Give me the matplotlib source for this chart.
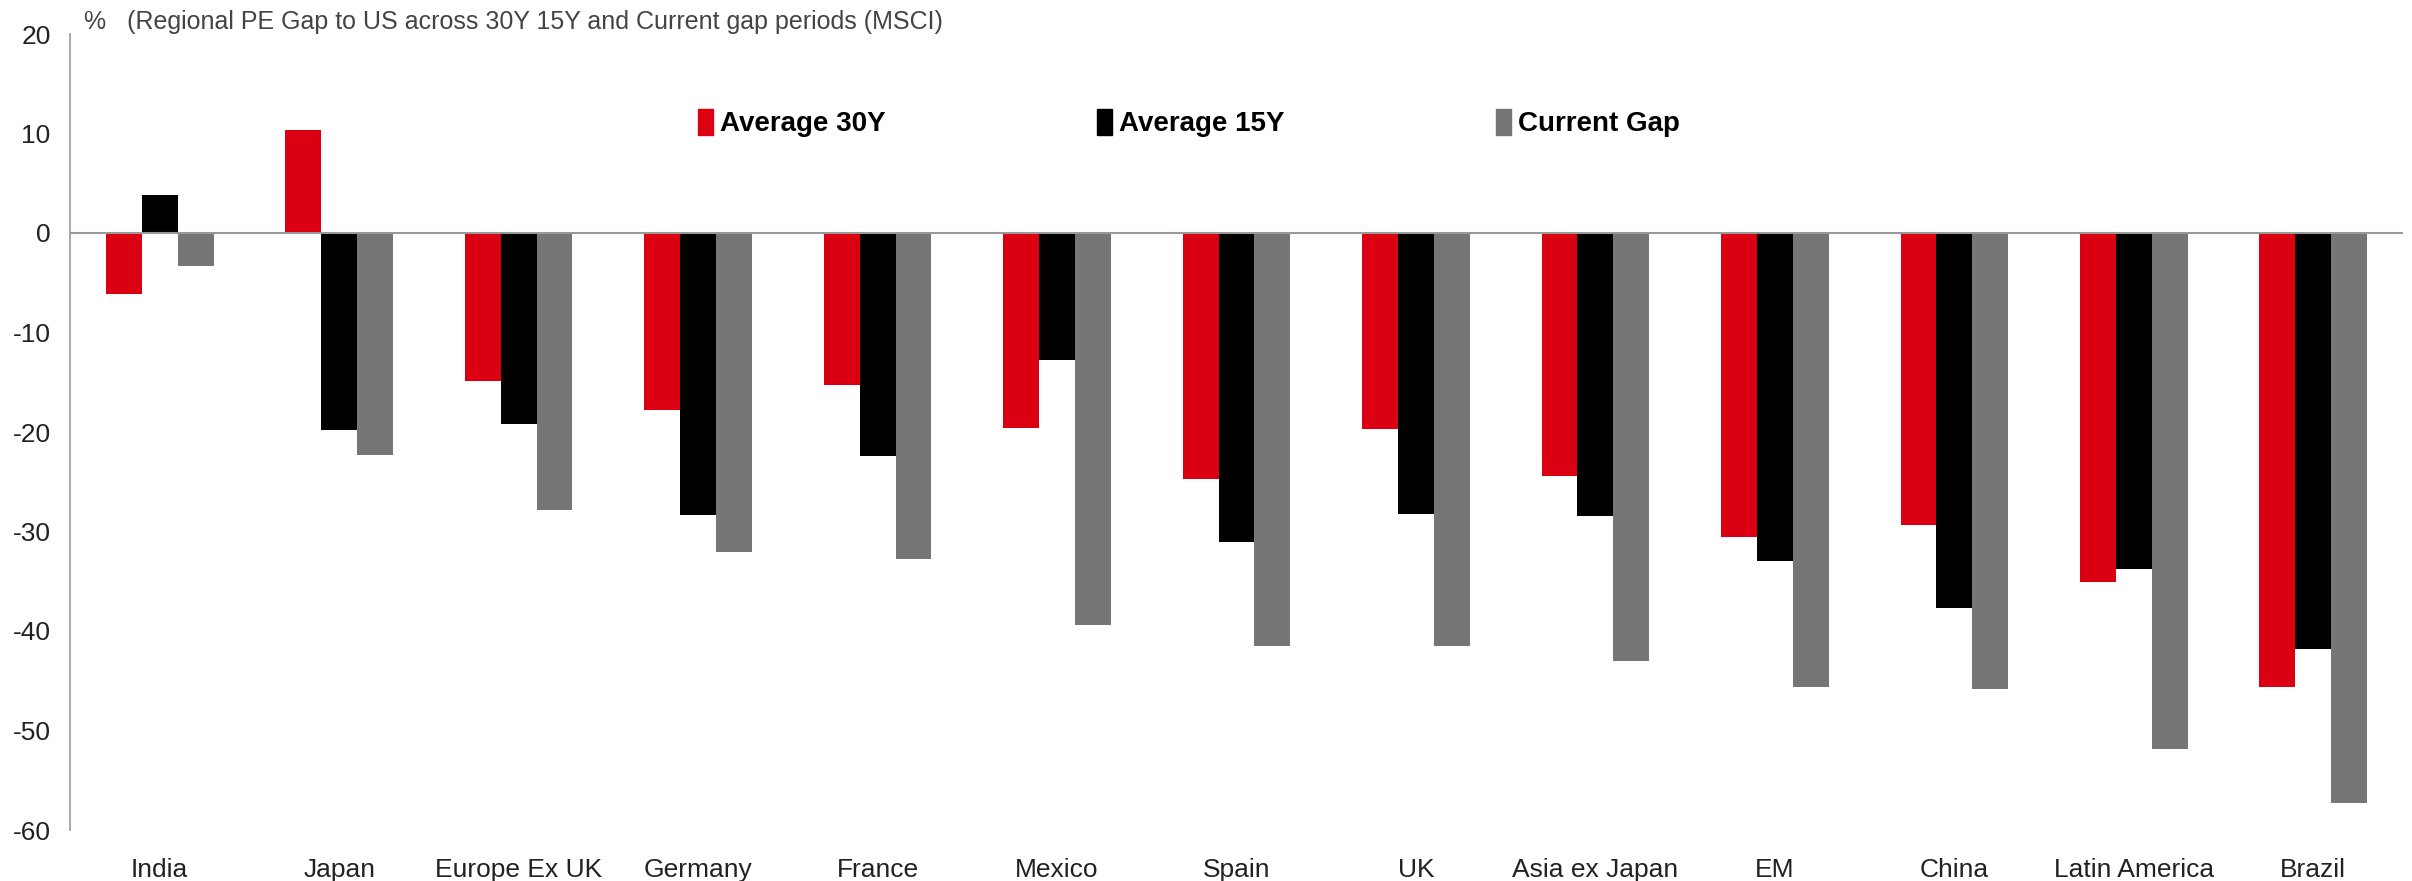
import numpy as np
import matplotlib
matplotlib.use('Agg')
import matplotlib.pyplot as plt
from matplotlib.patches import Patch

plt.rcParams['font.family'] = ['Liberation Sans Narrow', 'Liberation Sans', 'DejaVu Sans']
plt.rcParams['axes.unicode_minus'] = False

# PE gap to US by region (%)
regions = ['India', 'Japan', 'Europe Ex UK', 'Germany', 'France', 'Mexico', 'Spain',
           'UK', 'Asia ex Japan', 'EM', 'China', 'Latin America', 'Brazil']
avg_30y = [-6.1, 10.4, -14.9, -17.8, -15.3, -19.6, -24.7, -19.7, -24.4, -30.6, -29.3, -35.1, -45.6]
avg_15y = [3.8, -19.8, -19.2, -28.3, -22.4, -12.8, -31.1, -28.2, -28.4, -33.0, -37.7, -33.8, -41.8]
current_gap = [-3.3, -22.3, -27.8, -32.1, -32.8, -39.4, -41.5, -41.5, -43.0, -45.6, -45.8, -51.9, -57.3]

series = [('Average 30Y', avg_30y, '#DB0011'),
          ('Average 15Y', avg_15y, '#000000'),
          ('Current Gap', current_gap, '#767676')]

fig = plt.figure(figsize=(24.12, 8.81), dpi=100)
ax = fig.add_axes([70 / 2412, 1 - 830 / 881, (2403 - 70) / 2412, (830 - 34) / 881])

x = np.arange(len(regions))
w = 0.2
for i, (name, vals, col) in enumerate(series):
    ax.bar(x + (i - 1) * w, vals, width=w, color=col, label=name, zorder=2)

ax.axhline(0, color='#999999', lw=1.5, zorder=3)
ax.set_xlim(-0.5, len(regions) - 0.5)
ax.set_ylim(-60, 20)
ax.set_yticks(range(-60, 21, 10))
ax.set_xticks(x)
ax.set_xticklabels(regions)
ax.tick_params(axis='both', length=0, labelsize=19, colors='#222222')
ax.tick_params(axis='y', pad=14)
ax.tick_params(axis='x', pad=20)

for s in ['top', 'right', 'bottom']:
    ax.spines[s].set_visible(False)
ax.spines['left'].set_color('#999999')
ax.spines['left'].set_linewidth(1.2)

fig.text(84 / 2412, 1 - 22 / 881, '%   (Regional PE Gap to US across 30Y 15Y and Current gap periods (MSCI)',
         fontsize=18, color='#444444', va='center', ha='left')

handles = [Patch(color=c, label=n) for n, v, c in series]
fig.legend(handles=handles, loc='center left', bbox_to_anchor=(698 / 2412, 1 - 123 / 881),
           ncol=3, frameon=False, prop={'weight': 'bold', 'size': 20},
           handlelength=0.55, handleheight=1.1, handletextpad=0.25,
           columnspacing=7.6, borderpad=0, borderaxespad=0)

plt.savefig('out.png', dpi=100)
